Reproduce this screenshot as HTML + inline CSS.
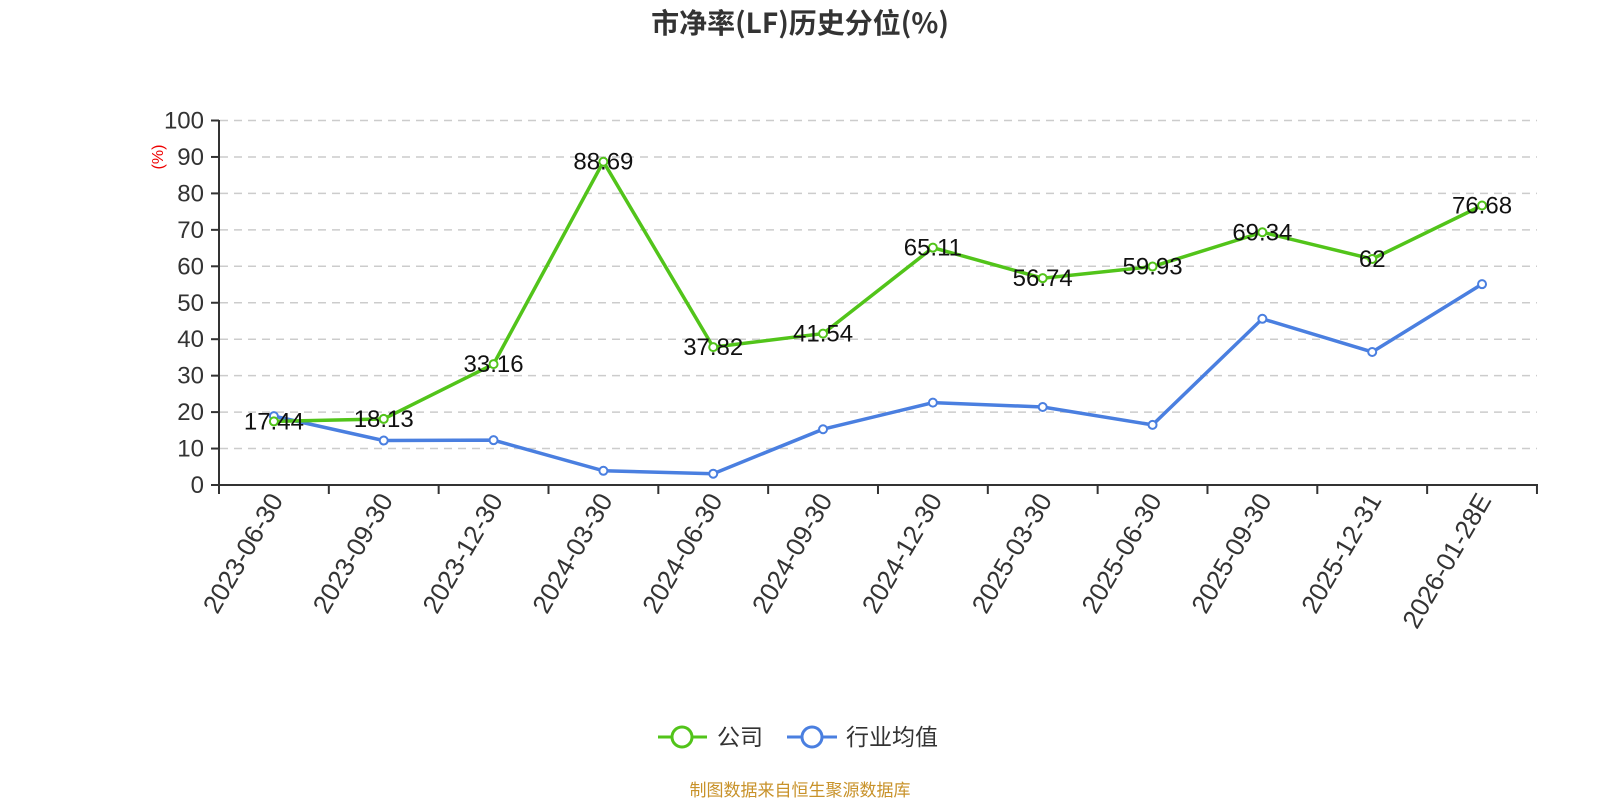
<!DOCTYPE html>
<html><head><meta charset="utf-8"><style>
body{margin:0;background:#fff}
text{font-family:"Liberation Sans","Noto Sans CJK SC",sans-serif}
</style></head><body>
<svg width="1600" height="800" xmlns="http://www.w3.org/2000/svg">
<text x="800" y="33" text-anchor="middle" font-size="28" font-weight="bold" fill="#333" style="font-family:'Noto Sans CJK SC',sans-serif">市净率(LF)历史分位(%)</text>
<g id="grid" stroke="#ccc" stroke-width="1.5" stroke-dasharray="8,6"></g>
<g id="yl" font-size="24" fill="#333" text-anchor="end"></g>
<text transform="translate(163,157) rotate(-90)" text-anchor="middle" font-size="16" fill="#e00">(%)</text>
<line x1="219" y1="120" x2="219" y2="486" stroke="#333" stroke-width="2"/>
<line x1="218" y1="485" x2="1538" y2="485" stroke="#333" stroke-width="2"/>
<g id="xt" stroke="#333" stroke-width="2"></g>
<g id="xl" font-size="26" fill="#333" text-anchor="end"></g>
<polyline id="pb" fill="none" stroke="#4a7fe0" stroke-width="3.5"/>
<polyline id="pg" fill="none" stroke="#52c41a" stroke-width="3.5"/>
<g id="mk"></g>
<g id="lb" font-size="24" fill="#111" text-anchor="middle"></g>
<line x1="658" y1="737" x2="707" y2="737" stroke="#52c41a" stroke-width="3"/>
<circle cx="682" cy="737" r="10" fill="#fff" stroke="#52c41a" stroke-width="3"/>
<text x="717" y="745" font-size="23" fill="#333" style="font-family:'Noto Sans CJK SC',sans-serif">公司</text>
<line x1="787" y1="737" x2="837" y2="737" stroke="#4a7fe0" stroke-width="3"/>
<circle cx="812" cy="737" r="10" fill="#fff" stroke="#4a7fe0" stroke-width="3"/>
<text x="846" y="745" font-size="23" fill="#333" style="font-family:'Noto Sans CJK SC',sans-serif">行业均值</text>
<text x="800" y="796" text-anchor="middle" font-size="17" fill="#c8922a" style="font-family:'Noto Sans CJK SC',sans-serif">制图数据来自恒生聚源数据库</text>
</svg>
<script>
const ns="http://www.w3.org/2000/svg";
function el(p,t,a,txt){const e=document.createElementNS(ns,t);for(const k in a)e.setAttribute(k,a[k]);if(txt!==undefined)e.textContent=txt;document.getElementById(p).appendChild(e);}
const Y=v=>485-v*3.645, X=i=>219+54.9+i*109.83;
for(let v=0;v<=100;v+=10){if(v>0)el("grid","line",{x1:220,y1:Y(v),x2:1537,y2:Y(v)});el("yl","text",{x:204,y:Y(v)+8},v);el("xt","line",{x1:211,y1:Y(v),x2:219,y2:Y(v)});}
for(let i=0;i<=12;i++)el("xt","line",{x1:219+i*109.83,y1:485,x2:219+i*109.83,y2:494});
const d=["2023-06-30","2023-09-30","2023-12-30","2024-03-30","2024-06-30","2024-09-30","2024-12-30","2025-03-30","2025-06-30","2025-09-30","2025-12-31","2026-01-28E"];
d.forEach((s,i)=>el("xl","text",{transform:`translate(${X(i)+10},${500}) rotate(-60)`},s));
const g=[17.44,18.13,33.16,88.69,37.82,41.54,65.11,56.74,59.93,69.34,62,76.68];
const b=[18.9,12.2,12.3,3.9,3.1,15.3,22.6,21.4,16.5,45.6,36.5,55.1];
document.getElementById("pg").setAttribute("points",g.map((v,i)=>X(i)+","+Y(v)).join(" "));
document.getElementById("pb").setAttribute("points",b.map((v,i)=>X(i)+","+Y(v)).join(" "));
b.forEach((v,i)=>el("mk","circle",{cx:X(i),cy:Y(v),r:4,fill:"#fff",stroke:"#4a7fe0","stroke-width":2}));
g.forEach((v,i)=>el("mk","circle",{cx:X(i),cy:Y(v),r:4,fill:"#fff",stroke:"#52c41a","stroke-width":2}));
g.forEach((v,i)=>el("lb","text",{x:X(i),y:Y(v)+8},v));
</script>
</body></html>
